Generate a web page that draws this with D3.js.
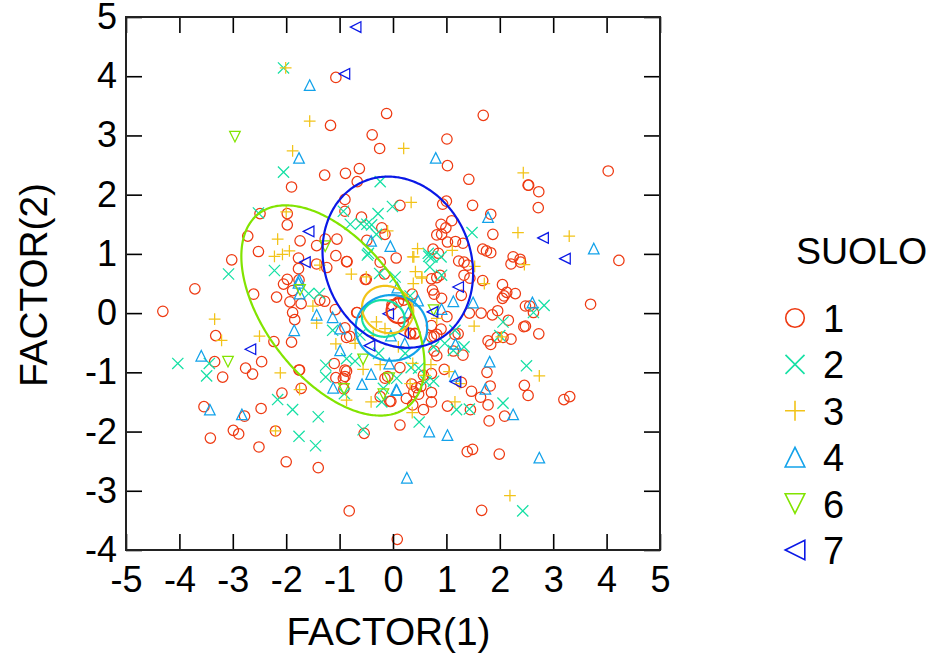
<!DOCTYPE html>
<html>
<head>
<meta charset="utf-8">
<script src="https://cdn.jsdelivr.net/npm/d3@7"></script>
<style>
  body { margin: 0; background: #fff; }
  text { font-family: "Liberation Sans", Arial, sans-serif; fill: #000; }
</style>
</head>
<body>
<script>
// values, [factor1, factor2]
var suolo1 = [[-1.07,3.98],[-0.12,3.37],[-1.17,3.17],[-0.39,3.01],[-0.25,2.78],[-0.63,2.44],[-0.89,2.36],[-1.28,2.33],[-0.67,2.22],[-1.90,2.13],
  [-0.90,1.92],[-0.90,1.72],[-2.49,1.68],[-1.98,1.68],[-1.98,1.49],[-0.59,1.62],[-2.72,1.30],[-1.74,1.22],[-1.43,1.14],[-1.27,1.25],
  [-1.05,1.25],[-0.21,1.44],[-0.15,1.33],[-0.49,1.23],[-2.52,1.04],[-3.02,0.90],[-1.77,0.93],[-1.07,0.97],[-0.86,0.87],[-1.43,0.83],
  [-1.77,0.75],[-1.24,0.77],[-0.24,0.86],[0.06,0.93],[-0.16,0.66],[-1.98,0.57],[-1.76,0.56],[-0.50,0.57],[-0.52,0.57],
  [1.69,3.34],[1.01,2.94],[1.02,2.49],[1.42,2.26],[2.54,2.16],[2.53,2.16],[2.73,2.05],[4.03,2.40],[2.72,1.78],[1.49,1.82],[1.00,1.89],
  [0.93,1.84],[0.13,1.82],[1.83,1.67],[1.10,1.56],[0.90,1.50],[0.99,1.44],[0.82,1.32],[0.91,1.33],[1.87,1.33],[1.02,1.20],
  [1.17,1.21],[1.31,1.18],[0.75,1.08],[0.85,1.01],[1.68,1.08],[1.75,1.05],[1.83,1.02],[1.23,0.88],[1.33,0.86],[1.40,0.81],
  [2.25,0.95],[2.38,0.91],[2.39,0.86],[2.21,0.83],[4.23,0.89],[1.33,0.64],[1.44,0.59],[1.68,0.55],[0.72,0.58],[0.82,0.60],[0.88,0.64],
  [-3.71,0.41],[-4.31,0.03],[-2.61,0.32],[-2.18,0.27],[-2.05,0.49],[-1.88,0.38],[-1.93,0.19],[-1.72,0.16],[-1.37,0.22],[-1.28,0.20],
  [-1.88,0.01],[-1.84,-0.11],[-3.32,-0.38],[-2.23,-0.48],[-1.90,-0.49],[-3.34,-0.82],[-2.46,-0.82],[-2.76,-0.93],[-2.63,-1.03],[-3.19,-1.08],
  [-1.76,-0.96],[-1.75,-0.96],[-1.72,-1.27],[-2.08,-1.35],[-3.54,-1.58],[-2.47,-1.61],[-2.78,-1.74],[-2.99,-1.98],[-2.89,-2.04],[-2.20,-1.99],
  [-3.42,-2.11],[-2.51,-2.26],[-2.00,-2.51],[-1.40,-2.61],[-0.82,-3.34],[-0.54,-2.03],[0.08,-3.82],[-1.10,-0.85],[-1.07,-1.09],[-0.90,-0.96],
  [-0.87,-0.98],[-0.93,-1.10],[-0.90,-1.07],[-0.92,-1.28],[-0.87,-0.41],[-0.90,-0.25],[-0.81,-0.39],[-1.08,0.06],[-0.67,0.01],[-0.24,-1.41],
  [-0.06,-1.49],[-0.15,-1.10],[-0.10,-1.07],[0.13,-1.89],
  [2.05,0.48],[2.13,0.35],[2.08,0.29],[2.05,0.25],[2.29,0.33],[2.48,0.12],[2.56,0.12],[2.63,0.01],[3.70,0.15],[1.96,0.04],
  [1.65,0.00],[1.43,0.00],[1.86,-0.03],[2.16,-0.12],[2.45,-0.23],[2.48,-0.22],[2.73,-0.35],[2.21,-0.44],[2.06,-0.41],[1.95,-0.41],
  [1.78,-0.47],[1.83,-0.53],[1.28,0.30],[0.91,0.25],[0.77,0.32],[0.74,0.39],[0.36,0.32],[1.01,-0.06],[0.72,-0.21],[0.90,-0.27],
  [0.72,-0.40],[0.82,-0.36],[0.77,-0.39],[1.22,-0.35],[1.16,-0.36],[0.41,-0.35],[0.33,-0.35],[0.19,-0.15],[0.77,-0.64],[0.82,-0.72],
  [1.13,-0.64],[1.31,-0.71],[0.96,-0.95],[0.13,-0.92],[1.76,-1.00],[0.72,-1.02],[0.57,-1.05],[0.52,-1.24],[0.35,-1.20],[0.44,-1.26],
  [0.39,-1.33],[0.48,-1.37],[0.72,-1.34],[0.72,-1.50],[0.25,-1.44],[0.37,-1.55],[-0.04,-1.49],[0.57,-1.63],[1.02,-1.57],[1.28,-1.17],
  [1.47,-1.32],[1.64,-1.42],[1.82,-1.23],[1.78,-1.55],[1.45,-1.63],[2.09,-1.74],[1.80,-1.82],[2.46,-1.22],[2.53,-1.39],[3.20,-1.46],
  [3.31,-1.41],[1.39,-2.34],[1.49,-2.30],[1.99,-2.38],[1.66,-3.33],[-0.02,0.14],[0.10,0.19],[0.20,0.22],[-0.68,0.01],[-0.87,0.87],
  [0.41,-0.34],[0.32,-0.34]];
var suolo2 = [[-2.05,4.14],[-2.05,2.38],[-0.24,2.22],[-2.52,1.69],[-0.93,1.72],[-0.01,1.80],[-0.28,1.68],[-0.80,1.50],[-0.60,1.51],[-0.49,1.50],
  [-0.40,1.49],[-0.31,1.33],[-0.46,1.01],[-0.48,0.98],[-2.22,0.72],[-3.08,0.66],[-0.25,0.67],[1.48,1.36],[0.67,0.96],[0.73,0.95],
  [0.90,0.95],[0.69,0.78],[0.66,1.01],[0.91,0.64],[0.04,0.61],[-4.03,-0.85],[-3.44,-0.85],[-3.49,-1.06],[-2.16,-1.46],[-1.88,-1.63],
  [-1.40,-1.75],[-1.76,-2.08],[-1.45,-2.24],[-0.56,-1.97],[-1.58,0.33],[-1.38,0.33],[-1.13,-0.29],[-1.26,-0.88],[-1.26,-1.08],[-0.87,-0.77],
  [-0.71,-0.81],[-0.91,-1.36],[-0.21,-1.50],[-0.18,-1.27],[0.07,-1.10],[-0.27,-0.68],[-0.62,-0.37],[2.83,0.13],[2.63,0.01],[2.06,-0.15],
  [0.32,0.29],[1.16,-0.29],[0.97,-0.51],[1.13,-0.63],[1.33,-0.57],[0.76,-0.57],[2.00,-0.38],[2.50,-0.89],[0.23,-0.68],[0.34,-0.92],
  [0.48,-0.93],[0.76,-1.15],[0.62,-1.16],[2.06,-1.52],[1.19,-1.63],[1.43,-1.62],[0.49,-1.84],[2.43,-3.34]];
var suolo3 = [[-2.01,4.14],[-1.56,3.24],[-1.88,2.74],[-2.00,1.71],[-2.16,1.25],[-1.94,1.05],[-2.07,0.99],[-2.22,0.96],[-1.37,0.81],[-0.78,0.66],
  [-0.50,0.61],[-0.10,1.39],[0.20,2.78],[2.44,2.37],[0.34,1.87],[2.34,1.36],[3.30,1.30],[0.46,1.09],[1.11,1.06],[0.37,0.95],
  [0.39,0.95],[1.53,0.79],[2.46,0.82],[0.42,0.70],[0.54,0.61],[-3.34,-0.10],[-3.21,-0.46],[-2.50,-0.39],[-2.11,-1.01],[-1.50,0.12],
  [-1.43,-0.17],[-1.75,-1.29],[-1.07,-0.52],[-0.71,-0.51],[-0.87,-1.47],[-0.41,-1.50],[-0.56,-0.95],[-0.24,-0.87],[-2.20,-1.99],[-0.31,-0.15],
  [-0.15,-0.26],[-0.37,-0.38],[1.71,0.50],[1.52,-0.22],[2.03,-0.40],[2.74,-1.06],[0.71,-0.87],[0.37,-0.85],[1.05,-0.99],[1.16,-1.50],
  [0.32,-1.19],[0.36,-1.68],[2.19,-3.08],[0.60,-1.05],[1.25,-1.19],[0.82,-0.09],[0.10,-0.57],[0.54,0.59],[0.38,0.50]];
var suolo4 = [[-1.56,3.85],[-1.76,2.62],[-0.41,1.22],[-0.05,1.13],[-1.76,0.56],[0.80,2.62],[1.78,1.62],[3.76,1.09],[-3.59,-0.72],[-3.43,-1.63],
  [-2.83,-1.71],[-1.77,0.51],[-1.75,0.33],[-1.43,-0.03],[-1.13,-0.07],[-0.99,-0.26],[-1.85,-0.29],[-0.99,-0.63],[-0.41,-1.03],[-1.12,-1.26],
  [-0.58,-1.20],[-0.07,-0.85],[0.06,-1.29],[-0.04,-0.38],[0.47,0.21],[1.13,0.20],[1.50,0.18],[0.91,0.07],[0.29,0.01],[2.61,0.18],
  [1.17,-0.52],[0.22,-0.51],[1.81,-0.82],[1.16,-1.06],[1.73,-1.28],[0.07,-1.30],[2.25,-1.71],[0.68,-2.00],[1.02,-2.06],[2.74,-2.44],
  [0.26,-2.78],[0.08,0.43]];
var suolo6 = [[-2.96,2.98],[-1.27,1.13],[-1.74,0.39],[-3.09,-0.82],[-0.56,-0.78],[-0.07,-1.10],[-0.18,-1.37],[-0.92,-1.28],[0.76,0.05]];
var suolo7 = [[-0.70,4.83],[-0.91,4.04],[-1.58,1.38],[-1.65,0.86],[2.81,1.27],[3.22,0.92],[-2.67,-0.61],[-0.09,-0.01],[-0.44,-0.55],[1.22,0.44],
  [0.74,0.02],[0.19,-0.33],[1.17,-1.16]];

var groups = ["1", "2", "3", "4", "6", "7"];
var points = [suolo1, suolo2, suolo3, suolo4, suolo6, suolo7];
var colors = ["#ee3a12", "#14e0a4", "#f2c318", "#12a2ea", "#82e400", "#0a18e6"];
var shapes = ["circle", "cross", "plus", "up", "down", "left"];

// ellipses per group: centre x, centre y, half width, half height, correlation
var ellCx = [0.115, -0.18, -0.10, -0.03, -1.125, 0.09];
var ellCy = [0.04, -0.09, 0.06, -0.25, 0.045, 0.86];
var ellA = [0.235, 0.40, 0.48, 0.67, 1.715, 1.41];
var ellB = [0.21, 0.31, 0.40, 0.555, 1.775, 1.445];
var ellR = [0, -0.05, -0.10, 0, -0.516, -0.13];

var xTicks = [-5, -4, -3, -2, -1, 0, 1, 2, 3, 4, 5];
var yTicks = [-4, -3, -2, -1, 0, 1, 2, 3, 4, 5];

var left = 126, right = 660, top_ = 17, bottom = 550;

var svg = d3.select("body").append("svg")
    .attr("width", 942)
    .attr("height", 656);

var x = d3.scaleLinear().domain([-5, 5]).range([left, right]);
var y = d3.scaleLinear().domain([-4, 5]).range([bottom, top_]);

function symbolPath(kind, s) {
  var p = d3.path();
  if (kind == "circle") {
    p.moveTo(s, 0);
    p.arc(0, 0, s, 0, 2 * Math.PI);
  } else if (kind == "cross") {
    p.moveTo(-s, -s); p.lineTo(s, s);
    p.moveTo(-s, s); p.lineTo(s, -s);
  } else if (kind == "plus") {
    p.moveTo(-s * 1.05, 0); p.lineTo(s * 1.05, 0);
    p.moveTo(0, -s * 1.05); p.lineTo(0, s * 1.05);
  } else if (kind == "up") {
    p.moveTo(0, -s); p.lineTo(s, s); p.lineTo(-s, s); p.closePath();
  } else if (kind == "down") {
    p.moveTo(0, s); p.lineTo(s, -s); p.lineTo(-s, -s); p.closePath();
  } else {
    p.moveTo(-s, 0); p.lineTo(s, -s); p.lineTo(s, s); p.closePath();
  }
  return p.toString();
}

var sizes = { circle: 5.2, cross: 5.6, plus: 5.6, up: 5.3, down: 5.3, left: 5.3 };
var legendSizes = { circle: 9.3, cross: 9.5, plus: 9.5, up: 9.8, down: 9.8, left: 9.8 };

// points
groups.forEach(function(g, i) {
  svg.append("g").attr("class", "group" + g)
    .selectAll("path")
    .data(points[i])
    .enter().append("path")
      .attr("transform", function(d) { return "translate(" + x(d[0]) + "," + y(d[1]) + ")"; })
      .attr("d", symbolPath(shapes[i], sizes[shapes[i]]))
      .attr("fill", "none")
      .attr("stroke", colors[i])
      .attr("stroke-width", 1.25);
});

// sample ellipses
var angles = d3.range(0, 2 * Math.PI + 0.02, 0.02);
var ellLine = d3.line();
groups.forEach(function(g, i) {
  var phi = Math.acos(ellR[i]);
  svg.append("path")
    .attr("d", ellLine(angles.map(function(t) {
      return [x(ellCx[i] + ellA[i] * Math.cos(t)), y(ellCy[i] + ellB[i] * Math.cos(t - phi))];
    })))
    .attr("fill", "none")
    .attr("stroke", colors[i])
    .attr("stroke-width", 2.2);
});

// axes: ticks point into the frame
function styleAxis(sel, labels) {
  sel.select(".domain").remove();
  sel.selectAll("line").attr("stroke", "#000").attr("stroke-width", 1.6);
  if (labels) sel.selectAll("text").style("font-size", "36px");
  else sel.selectAll("text").remove();
}

svg.append("g")
    .attr("transform", "translate(0," + bottom + ")")
    .call(d3.axisBottom(x).tickValues(xTicks).tickFormat(String).tickSizeInner(-16).tickSizeOuter(0).tickPadding(16))
    .call(styleAxis, true);
svg.append("g")
    .attr("transform", "translate(" + left + ",0)")
    .call(d3.axisLeft(y).tickValues(yTicks).tickFormat(String).tickSizeInner(-16).tickSizeOuter(0).tickPadding(9))
    .call(styleAxis, true);
svg.append("g")
    .attr("transform", "translate(0," + top_ + ")")
    .call(d3.axisTop(x).tickValues(xTicks).tickSizeInner(-16).tickSizeOuter(0))
    .call(styleAxis, false);
svg.append("g")
    .attr("transform", "translate(" + right + ",0)")
    .call(d3.axisRight(y).tickValues(yTicks).tickSizeInner(-16).tickSizeOuter(0))
    .call(styleAxis, false);

svg.append("rect")
    .attr("x", left)
    .attr("y", top_)
    .attr("width", right - left)
    .attr("height", bottom - top_)
    .attr("fill", "none")
    .attr("stroke", "#222")
    .attr("stroke-width", 2);

svg.append("text")
    .attr("x", 388.5)
    .attr("y", 645)
    .attr("text-anchor", "middle")
    .style("font-size", "38.8px")
    .text("FACTOR(1)");
svg.append("text")
    .attr("transform", "translate(47,285) rotate(-90)")
    .attr("text-anchor", "middle")
    .style("font-size", "38.8px")
    .text("FACTOR(2)");

// legend
svg.append("text")
    .attr("x", 796)
    .attr("y", 264)
    .style("font-size", "37.5px")
    .text("SUOLO");

var legendY = d3.scalePoint().domain(groups).range([318, 550]);

var legend = svg.append("g").selectAll("g")
    .data(groups)
    .enter().append("g")
      .attr("transform", function(d) { return "translate(795," + legendY(d) + ")"; });

legend.append("path")
    .attr("d", function(d, i) { return symbolPath(shapes[i], legendSizes[shapes[i]]); })
    .attr("fill", "none")
    .attr("stroke", function(d, i) { return colors[i]; })
    .attr("stroke-width", 1.6);

legend.append("text")
    .attr("x", 28)
    .attr("y", 14)
    .style("font-size", "38px")
    .text(function(d) { return d; });
</script>
</body>
</html>
